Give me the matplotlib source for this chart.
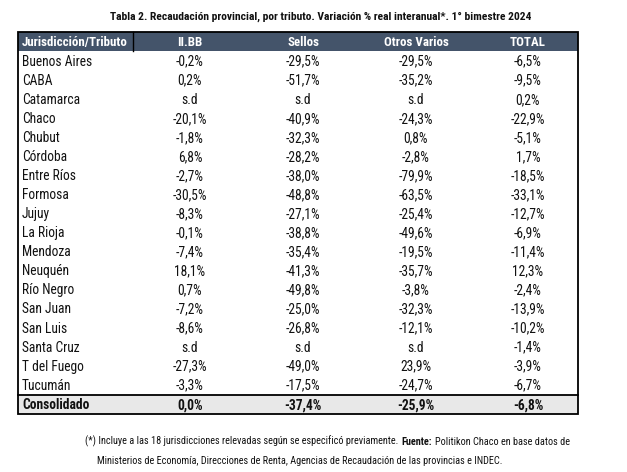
import matplotlib
matplotlib.use('Agg')
import matplotlib.pyplot as plt
from matplotlib.patches import Rectangle
from matplotlib import font_manager

# Pick a narrow font if available
names = {f.name for f in font_manager.fontManager.ttflist}
FONT = 'Liberation Sans'
for cand in ['Liberation Sans Narrow', 'DejaVu Sans Condensed', 'Roboto Condensed',
             'Open Sans Condensed', 'Liberation Sans']:
    if cand in names:
        FONT = cand
        break
plt.rcParams['font.family'] = [FONT, 'DejaVu Sans']

title = 'Tabla 2. Recaudación provincial, por tributo. Variación % real interanual*. 1° bimestre 2024'
headers = ['Jurisdicción/Tributo', 'II.BB', 'Sellos', 'Otros Varios', 'TOTAL']
jurisdicciones = ['Buenos Aires', 'CABA', 'Catamarca', 'Chaco', 'Chubut', 'Córdoba',
                  'Entre Ríos', 'Formosa', 'Jujuy', 'La Rioja', 'Mendoza', 'Neuquén',
                  'Río Negro', 'San Juan', 'San Luis', 'Santa Cruz', 'T del Fuego', 'Tucumán']
iibb = [-0.2, 0.2, None, -20.1, -1.8, 6.8, -2.7, -30.5, -8.3, -0.1, -7.4, 18.1,
        0.7, -7.2, -8.6, None, -27.3, -3.3]
sellos = [-29.5, -51.7, None, -40.9, -32.3, -28.2, -38.0, -48.8, -27.1, -38.8, -35.4, -41.3,
          -49.8, -25.0, -26.8, None, -49.0, -17.5]
otros = [-29.5, -35.2, None, -24.3, 0.8, -2.8, -79.9, -63.5, -25.4, -49.6, -19.5, -35.7,
         -3.8, -32.3, -12.1, None, 23.9, -24.7]
total = [-6.5, -9.5, 0.2, -22.9, -5.1, 1.7, -18.5, -33.1, -12.7, -6.9, -11.4, 12.3,
         -2.4, -13.9, -10.2, -1.4, -3.9, -6.7]
consolidado_label = 'Consolidado'
consolidado = [0.0, -37.4, -25.9, -6.8]

nota_1a = '(*) Incluye a las 18 jurisdicciones relevadas según se especificó previamente.'
nota_1b = 'Fuente:'
nota_1c = 'Politikon Chaco en base datos de'
nota_2 = 'Ministerios de Economía, Direcciones de Renta, Agencias de Recaudación de las provincias e INDEC.'


def fmt(v):
    if v is None:
        return 's.d'
    return f'{v:.1f}%'.replace('.', ',')


W, H = 627, 472
fig = plt.figure(figsize=(W / 100, H / 100), dpi=100)
ax = fig.add_axes([0, 0, 1, 1])
ax.set_xlim(0, W)
ax.set_ylim(H, 0)
ax.axis('off')
fig.canvas.draw()
r = fig.canvas.get_renderer()


def text_w(s, size, weight='normal'):
    t = fig.text(0, 0, s, fontsize=size, fontweight=weight)
    w = t.get_window_extent(renderer=r).width
    t.remove()
    return w


def fit_size(s, width_px, weight='normal', base=10.0):
    return base * width_px / text_w(s, base, weight)


# sizes fitted to the widths of the reference texts
fs_title = min(fit_size(title, 420, 'bold'), 10.0)
fs = min(fit_size('Buenos Aires', 70), 10.5)
fs_head = min(fit_size(headers[0], 106, 'bold'), 10.5)
# footnote: fit the whole first line (482 px) including bold part
w1 = (text_w(nota_1a, 10) + text_w(nota_1b, 10, 'bold') + text_w(nota_1c, 10))
w2 = text_w(nota_2, 10)
fs2 = min(10 * (482 - 6) / w1, 10 * 408 / w2, 8.0)


def base_off(size):
    # half of cap height in pixels, to place the baseline
    return 0.36 * size * 100 / 72


left, right = 18, 578
head_top, head_bot = 31.5, 51
row_h = 19.06
col_x = [190, 303, 416, 528]
dark = '#44546A'
ink = '#111111'

ax.text(321, 15.5 + base_off(fs_title), title, ha='center', va='baseline',
        fontsize=fs_title, fontweight='bold', color=ink)

# header
ax.add_patch(Rectangle((left, head_top), right - left, head_bot - head_top, facecolor=dark,
                       edgecolor='none'))
ax.plot([133, 133], [head_top, head_bot], color='black', lw=1.0)
yh = (head_top + head_bot) / 2 + base_off(fs_head)
ax.text(22, yh, headers[0], ha='left', va='baseline',
        fontsize=fs_head, fontweight='bold', color='white')
for x, h in zip(col_x, headers[1:]):
    ax.text(x, yh, h, ha='center', va='baseline',
            fontsize=fs_head, fontweight='bold', color='white')

# body rows
y0 = head_bot + row_h / 2 + 0.3
for i, name in enumerate(jurisdicciones):
    y = y0 + i * row_h + base_off(fs)
    ax.text(22, y, name, ha='left', va='baseline', fontsize=fs, color=ink)
    vals = [iibb[i], sellos[i], otros[i], total[i]]
    for x, v in zip(col_x, vals):
        ax.text(x, y, fmt(v), ha='center', va='baseline', fontsize=fs, color=ink)

# consolidado row
cons_top = head_bot + len(jurisdicciones) * row_h + 1
cons_bot = cons_top + row_h
ax.add_patch(Rectangle((left, cons_top), right - left, cons_bot - cons_top,
                       facecolor='#E8E8E8', edgecolor='none'))
ax.plot([left, right], [cons_top, cons_top], color='black', lw=1.3)
yc = (cons_top + cons_bot) / 2 + base_off(fs)
ax.text(22, yc, consolidado_label, ha='left', va='baseline', fontsize=fs, fontweight='bold',
        color=ink)
for x, v in zip(col_x, consolidado):
    ax.text(x, yc, fmt(v), ha='center', va='baseline', fontsize=fs, fontweight='bold',
            color=ink)

# outer border
ax.add_patch(Rectangle((left, head_top), right - left, cons_bot - head_top, facecolor='none',
                       edgecolor='black', lw=1.3))

# footnote with bold "Fuente:"
x = 85
for part, wt in [(nota_1a, 'normal'), (nota_1b, 'bold'), (nota_1c, 'normal')]:
    t = ax.text(x, 441 + base_off(fs2), part, ha='left', va='baseline', fontsize=fs2,
                fontweight=wt, color=ink)
    bb = t.get_window_extent(renderer=r)
    x = ax.transData.inverted().transform((bb.x1, bb.y0))[0] + 3
ax.text(97, 460 + base_off(fs2), nota_2, ha='left', va='baseline', fontsize=fs2, color=ink)

fig.savefig('out.png', dpi=100, facecolor='white')
